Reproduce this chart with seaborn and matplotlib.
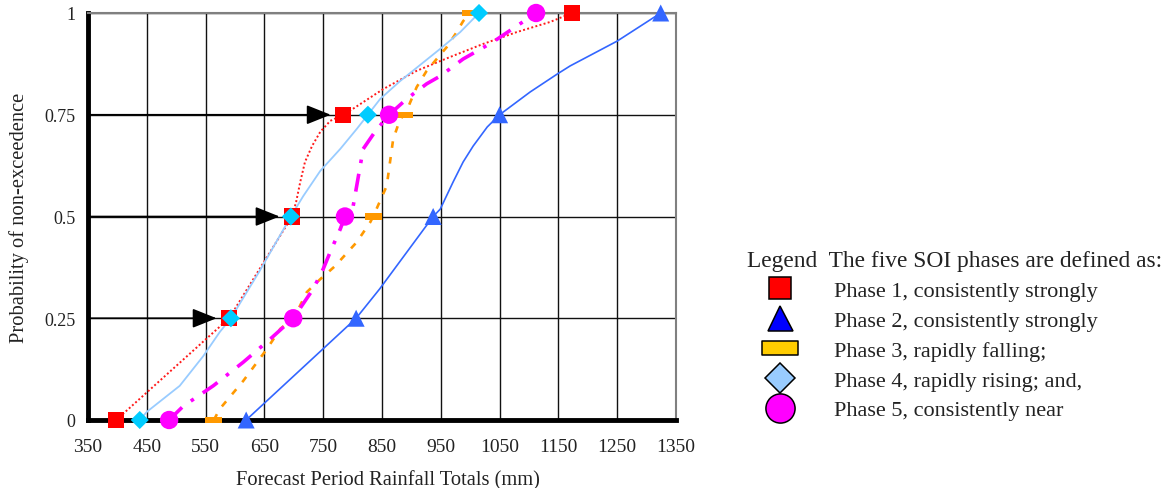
import matplotlib
matplotlib.use("Agg")
import matplotlib.pyplot as plt
from matplotlib.lines import Line2D
from matplotlib.path import Path
import seaborn as sns
import pandas as pd

# ---------------- data ----------------
quantiles = [0, 0.25, 0.5, 0.75, 1]

phase1_q = [398, 590, 697, 784, 1173]
phase2_q = [619, 806, 937, 1050, 1324]
phase3_q = [564, 700, 835, 889, 1000]
phase4_q = [438, 593, 695, 826, 1015]
phase5_q = [488, 699, 787, 862, 1112]

phase1_p = [0, 0.25, 0.5, 0.536, 0.585, 0.634, 0.673, 0.708, 0.735, 0.75,
            0.764, 0.813, 0.858, 0.892, 0.924, 0.953, 0.978, 1]
phase1_x = [398, 590, 697, 704, 711, 719, 731, 745, 762, 784,
            800, 852, 909, 966, 1022, 1079, 1136, 1173]

phase2_p = [0, 0.25, 0.322, 0.5, 0.518, 0.585, 0.634, 0.673, 0.72, 0.75,
            0.764, 0.806, 0.85, 0.87, 0.931, 1]
phase2_x = [619, 806, 846, 937, 949, 971, 988, 1005, 1029, 1050,
            1063, 1102, 1148, 1170, 1250, 1324]

phase3_p = [0, 0.027, 0.096, 0.174, 0.224, 0.25, 0.314, 0.346, 0.378, 0.437, 0.486, 0.5,
            0.575, 0.69, 0.74, 0.75, 0.818, 0.858, 0.887, 0.916, 0.953, 0.98, 1]
phase3_x = [564, 574, 614, 654, 677, 700, 722, 745, 770, 807, 830, 835,
            858, 869, 881, 889, 909, 926, 943, 960, 977, 988, 1000]

phase4_p = [0, 0.02, 0.084, 0.157, 0.216, 0.25, 0.364, 0.5, 0.55, 0.612, 0.666, 0.715,
            0.75, 0.789, 0.833, 0.912, 0.953, 1]
phase4_x = [438, 450, 506, 546, 574, 593, 641, 695, 716, 745, 779, 807,
            826, 847, 881, 949, 983, 1015]

phase5_p = [0, 0.034, 0.084, 0.142, 0.199, 0.25, 0.273, 0.322, 0.371, 0.413, 0.469, 0.5,
            0.526, 0.666, 0.708, 0.75, 0.781, 0.801, 0.826, 0.845, 0.887, 0.929, 0.968, 0.99, 1]
phase5_x = [488, 512, 563, 614, 660, 699, 710, 733, 750, 762, 779, 787,
            801, 818, 838, 862, 886, 903, 926, 949, 988, 1039, 1079, 1102, 1112]

arrow_probs = [0.25, 0.5, 0.75]
arrow_targets = [590, 697, 784]

x_ticks = [350, 450, 550, 650, 750, 850, 950, 1050, 1150, 1250, 1350]
y_ticks = [0, 0.25, 0.5, 0.75, 1]
y_ticklabels = ["0", "0.25", "0.5", "0.75", "1"]

legend_labels = ["Phase 1, consistently strongly",
                 "Phase 2, consistently strongly",
                 "Phase 3, rapidly falling;",
                 "Phase 4, rapidly rising; and,",
                 "Phase 5, consistently near"]

# ---------------- style ----------------
sns.set_style("white")
plt.rcParams['font.family'] = ['Liberation Serif', 'DejaVu Serif']

W, H = 1169, 489
fig = plt.figure(figsize=(W / 100, H / 100), dpi=100)
ax = fig.add_axes([88 / W, 1 - 421 / H, (676 - 88) / W, (421 - 14) / H])

bar_marker = Path([(-1, -0.38), (1, -0.38), (1, 0.38), (-1, 0.38), (-1, -0.38)],
                  [Path.MOVETO, Path.LINETO, Path.LINETO, Path.LINETO, Path.CLOSEPOLY])

phases = [
    dict(px=phase1_x, pp=phase1_p, q=phase1_q, lc="#FF1A1A", ls=(0, (1, 1.2)), lw=1.4,
         mk="s", ms=135, mc="#FF0000"),
    dict(px=phase2_x, pp=phase2_p, q=phase2_q, lc="#3366FF", ls="-", lw=1.2,
         mk="^", ms=150, mc="#3366FF"),
    dict(px=phase3_x, pp=phase3_p, q=phase3_q, lc="#FF9900", ls=(0, (2.5, 3.5)), lw=1.9,
         mk=bar_marker, ms=150, mc="#FF9900"),
    dict(px=phase4_x, pp=phase4_p, q=phase4_q, lc="#99CCFF", ls="-", lw=1.3,
         mk="D", ms=85, mc="#00CCFF"),
    dict(px=phase5_x, pp=phase5_p, q=phase5_q, lc="#FF00FF", ls=(0, (5, 3, 1, 3)), lw=2.6,
         mk="o", ms=175, mc="#FF00FF"),
]

for i, ph in enumerate(phases):
    df = pd.DataFrame({"rain": ph["px"], "prob": ph["pp"]})
    sns.lineplot(data=df, x="rain", y="prob", ax=ax, color=ph["lc"], lw=ph["lw"],
                 linestyle=ph["ls"], estimator=None, sort=False, zorder=3 + i * 0.1)

for i, ph in enumerate(phases):
    dq = pd.DataFrame({"rain": ph["q"], "prob": quantiles})
    sns.scatterplot(data=dq, x="rain", y="prob", ax=ax, marker=ph["mk"], s=ph["ms"],
                    color=ph["mc"], edgecolor="none", linewidth=0, clip_on=False,
                    zorder=5 + i * 0.1)

for p, xt in zip(arrow_probs, arrow_targets):
    ax.annotate("", xy=(xt, p), xytext=(350, p),
                arrowprops=dict(arrowstyle="-|>,head_length=0.75,head_width=0.3",
                                mutation_scale=20, color="black", lw=1.2,
                                shrinkA=0, shrinkB=9),
                zorder=4)

ax.set_xlim(350, 1350)
ax.set_ylim(0, 1)
ax.set_xticks(x_ticks)
ax.set_xticklabels([str(v) for v in x_ticks])
ax.set_yticks(y_ticks)
ax.set_yticklabels(y_ticklabels)
ax.grid(True, color="#111111", lw=1.0)
ax.set_axisbelow(True)

for s in ["top", "right"]:
    ax.spines[s].set_color("#808080")
    ax.spines[s].set_linewidth(1.5)
for s in ["left", "bottom"]:
    ax.spines[s].set_color("black")
    ax.spines[s].set_linewidth(3.5)

ax.tick_params(axis="both", direction="in", length=3, width=2.5, color="black",
               labelcolor="#222222")
ax.tick_params(axis="x", pad=13, labelsize=14)
ax.tick_params(axis="y", pad=9, labelsize=13)

ax.set_xlabel("Forecast Period Rainfall Totals (mm)", fontsize=14.8, color="#222222")
ax.xaxis.set_label_coords((388 - 88) / (676 - 88), -0.124)
ax.set_ylabel("Probability of non-exceedence", fontsize=14.8, color="#222222", labelpad=11)

handles = [
    Line2D([], [], ls="none", marker="s", markersize=16, markerfacecolor="#FF0000",
           markeredgecolor="black", markeredgewidth=1.1),
    Line2D([], [], ls="none", marker="^", markersize=18, markerfacecolor="#0000FF",
           markeredgecolor="black", markeredgewidth=1.1),
    Line2D([], [], ls="none", marker=bar_marker, markersize=26, markerfacecolor="#FFCC00",
           markeredgecolor="black", markeredgewidth=1.1),
    Line2D([], [], ls="none", marker="D", markersize=15, markerfacecolor="#99CCFF",
           markeredgecolor="black", markeredgewidth=1.1),
    Line2D([], [], ls="none", marker="o", markersize=21, markerfacecolor="#FF00FF",
           markeredgecolor="black", markeredgewidth=1.1),
]
fs = 16
leg = fig.legend(handles, legend_labels,
                 title="Legend  The five SOI phases are defined as:",
                 loc="upper left", bbox_to_anchor=(747 / W, 1 - 251 / H),
                 frameon=False, prop={"size": fs}, title_fontsize=16.8,
                 handlelength=3.0, handletextpad=0.9, labelspacing=0.42,
                 borderpad=0, borderaxespad=0, alignment="left")
for t in leg.get_texts():
    t.set_color("#222222")
leg.get_title().set_color("#222222")

fig.savefig("out.png", dpi=100)
